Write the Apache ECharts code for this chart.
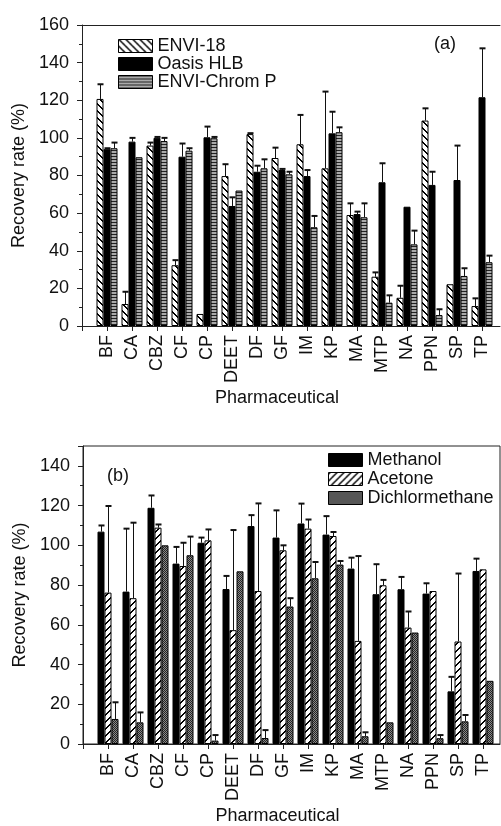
<!DOCTYPE html>
<html><head><meta charset="utf-8">
<script src="https://cdn.jsdelivr.net/npm/echarts@6/dist/echarts.min.js"></script>
<style>html,body{margin:0;padding:0;background:#fff}#c{width:501px;height:826px}</style>
</head><body><div id="c"></div>
<script>
// ---- data ----
const categories = ['BF','CA','CBZ','CF','CP','DEET','DF','GF','IM','KP','MA','MTP','NA','PPN','SP','TP'];
// (a)
const envi18    = [120.7, 11.7, 95.9, 32.3, 6.4, 79.7, 102.0, 89.3, 96.6, 83.8, 59.0, 26.2, 15.0, 109.2, 22.2, 10.6];
const envi18Err = [7.8, 6.5, 1.6, 2.7, 0, 6.3, 0.5, 5.5, 15.6, 40.8, 6.2, 2.3, 6.4, 6.5, 0, 4.1];
const oasis     = [94.0, 98.0, 100.0, 90.0, 100.3, 63.8, 82.0, 82.9, 79.7, 102.4, 59.5, 76.4, 63.4, 75.0, 77.6, 121.6];
const oasisErr  = [0.5, 2.0, 0.5, 7.0, 5.7, 4.6, 3.2, 0.6, 3.2, 11.5, 1.3, 10.1, 0, 7.0, 18.3, 26.0];
const chrom     = [94.5, 89.7, 98.3, 93.2, 99.8, 72.0, 83.8, 80.6, 52.5, 103.0, 57.8, 12.4, 43.4, 5.8, 26.6, 33.9];
const chromErr  = [3.0, 0, 1.7, 1.3, 0.7, 0, 4.8, 1.4, 6.0, 2.6, 7.4, 3.9, 7.3, 3.1, 4.1, 3.5];
// (b)
const methanol    = [106.9, 76.7, 118.9, 90.8, 101.3, 78.0, 109.7, 103.9, 111.0, 105.4, 88.3, 75.4, 77.9, 75.7, 26.5, 87.1];
const methanolErr = [3.1, 31.7, 6.2, 8.4, 2.6, 6.6, 5.5, 13.7, 10.0, 9.3, 5.5, 15.1, 6.2, 5.2, 7.3, 6.2];
const acetone     = [76.2, 73.4, 108.9, 89.6, 102.5, 57.3, 77.0, 97.5, 108.4, 104.7, 51.9, 79.9, 58.6, 77.0, 51.6, 87.9];
const acetoneErr  = [43.6, 38.0, 1.6, 11.7, 5.5, 50.4, 44.1, 2.5, 4.6, 2.0, 42.7, 2.7, 8.1, 0, 34.2, 0];
const dichlor     = [12.6, 10.9, 100.0, 95.0, 1.7, 86.9, 3.0, 69.2, 83.4, 90.3, 3.9, 10.9, 56.1, 2.9, 11.4, 31.8];
const dichlorErr  = [8.4, 5.0, 0, 9.4, 2.8, 0, 4.0, 4.2, 8.2, 1.8, 2.0, 0, 0, 1.6, 3.2, 0];
const yTicksA = [0, 20, 40, 60, 80, 100, 120, 140, 160];
const yTicksB = [0, 20, 40, 60, 80, 100, 120, 140];

// ---- styles ----
const FONT = 'Liberation Sans, Arial, sans-serif';
const BW = 7;
function pattern(w, h, fn) {
  const c = document.createElement('canvas');
  c.width = w; c.height = h;
  const ctx = c.getContext('2d');
  for (let y = 0; y < h; y++) for (let x = 0; x < w; x++) {
    ctx.fillStyle = fn(x, y); ctx.fillRect(x, y, 1, 1);
  }
  return { image: c, repeat: 'repeat' };
}
const patBack = pattern(7, 7, (x, y) => (((x - y) % 7 + 7) % 7 < 2 ? '#000' : '#fff'));
const patFwd  = pattern(7, 7, (x, y) => ((x + y) % 7 < 2 ? '#000' : '#fff'));
const patHor  = pattern(4, 3, (x, y) => (y === 0 ? '#222' : '#aaa'));
const patDot  = pattern(2, 2, (x, y) => ((x + y) % 2 === 0 ? '#222' : '#8a8a8a'));

const pts = arr => arr.map((v, i) => [i + 1, v]);
function errData(groups) {
  const out = [];
  groups.forEach((g, k) => g[0].forEach((v, i) => out.push([i + 1, v, g[1][i], k])));
  return out;
}
function errSeries(xi, yi, data) {
  return {
    type: 'custom', xAxisIndex: xi, yAxisIndex: yi, z: 5, silent: true,
    encode: { x: 0, y: 1 },
    data: data,
    renderItem: function (params, api) {
      const e = api.value(2);
      if (!e) return null;
      const p = api.coord([api.value(0), api.value(1)]);
      const q = api.coord([api.value(0), api.value(1) + e]);
      const x = Math.round(p[0] + (api.value(3) - 1) * BW) + 0.5;
      return { type: 'group', children: [
        { type: 'line', shape: { x1: x, y1: p[1], x2: x, y2: q[1] }, style: { stroke: '#111', lineWidth: 1 } },
        { type: 'line', shape: { x1: x - 3, y1: q[1], x2: x + 3, y2: q[1] }, style: { stroke: '#111', lineWidth: 2 } }
      ]};
    }
  };
}
function bar(name, xi, yi, arr, color) {
  return { name: name, type: 'bar', xAxisIndex: xi, yAxisIndex: yi, data: pts(arr),
    barWidth: BW, barGap: '0%',
    itemStyle: { color: color, borderColor: '#000', borderWidth: 1 } };
}
const axisLine = { show: true, lineStyle: { color: '#222', width: 1 } };
const tickIdx = Array.from({ length: 17 }, (_, i) => i);
const labIdx = Array.from({ length: 16 }, (_, i) => i + 1);
function xAxisMain(gi, max) {
  return {
    type: 'value', gridIndex: gi, min: 0, max: max, interval: 1,
    axisLine: axisLine,
    axisTick: { show: true, length: 5, customValues: tickIdx, lineStyle: { color: '#222' } },
    axisLabel: { rotate: 90, margin: 9, fontSize: 18, fontFamily: FONT, color: '#111',
      customValues: labIdx, formatter: v => categories[v - 1] || '' },
    splitLine: { show: false },
    name: 'Pharmaceutical', nameLocation: 'middle', nameGap: 63,
    nameTextStyle: { fontSize: 18, fontFamily: FONT, color: '#111', padding: [0, 28, 0, 0] }
  };
}
function yAxisMain(gi, max, ticks) {
  return {
    type: 'value', gridIndex: gi, min: 0, max: max, interval: 20,
    axisLine: axisLine,
    axisTick: { show: true, length: 5, lineStyle: { color: '#222' } },
    minorTick: { show: true, splitNumber: 2, length: 3, lineStyle: { color: '#222' } },
    axisLabel: { margin: 13, fontSize: 18, fontFamily: FONT, color: '#111',
      formatter: v => (ticks.indexOf(v) >= 0 ? String(v) : '') },
    splitLine: { show: false }, minorSplitLine: { show: false },
    name: 'Recovery rate (%)', nameLocation: 'middle', nameGap: 54, nameRotate: 90,
    nameTextStyle: { fontSize: 18, fontFamily: FONT, color: '#111' }
  };
}
const legendBase = {
  orient: 'vertical', icon: 'rect', itemWidth: 34, itemHeight: 13, itemGap: 0,
  padding: 0, itemStyle: { borderColor: '#000', borderWidth: 1 },
  textStyle: { fontSize: 18, fontFamily: FONT, color: '#111', lineHeight: 16 },
  selectedMode: false
};

const chart = echarts.init(document.getElementById('c'), null, { renderer: 'canvas' });
chart.setOption({
  animation: false,
  backgroundColor: '#fff',
  grid: [
    { left: 82, top: 25, width: 418, height: 301, show: false },
    { left: 83, top: 446, width: 417, height: 299, show: true, borderColor: '#222', borderWidth: 1, backgroundColor: 'transparent' }
  ],
  xAxis: [
    xAxisMain(0, 418 / 25),
    { type: 'value', gridIndex: 0, position: 'top', min: 0, max: 418 / 25, axisLine: axisLine,
      axisTick: { show: false }, axisLabel: { show: false }, splitLine: { show: false } },
    xAxisMain(1, 417 / 25)
  ],
  yAxis: [ yAxisMain(0, 160, yTicksA), yAxisMain(1, 150, yTicksB) ],
  legend: [
    Object.assign({}, legendBase, { left: 118, top: 37, data: ['ENVI-18', 'Oasis HLB', 'ENVI-Chrom P'] }),
    Object.assign({}, legendBase, { left: 328, top: 451, itemGap: 1, data: ['Methanol', 'Acetone', 'Dichlormethane'] })
  ],
  graphic: [
    { type: 'text', x: 445, y: 44, style: { text: '(a)', fontSize: 18, fontFamily: FONT, fill: '#111', align: 'center', verticalAlign: 'middle' } },
    { type: 'text', x: 118, y: 476, style: { text: '(b)', fontSize: 18, fontFamily: FONT, fill: '#111', align: 'center', verticalAlign: 'middle' } }
  ],
  series: [
    bar('ENVI-18', 0, 0, envi18, patBack),
    bar('Oasis HLB', 0, 0, oasis, '#000'),
    bar('ENVI-Chrom P', 0, 0, chrom, patHor),
    errSeries(0, 0, errData([[envi18, envi18Err], [oasis, oasisErr], [chrom, chromErr]])),
    bar('Methanol', 2, 1, methanol, '#000'),
    bar('Acetone', 2, 1, acetone, patFwd),
    bar('Dichlormethane', 2, 1, dichlor, patDot),
    errSeries(2, 1, errData([[methanol, methanolErr], [acetone, acetoneErr], [dichlor, dichlorErr]]))
  ]
});
</script>
</body></html>
